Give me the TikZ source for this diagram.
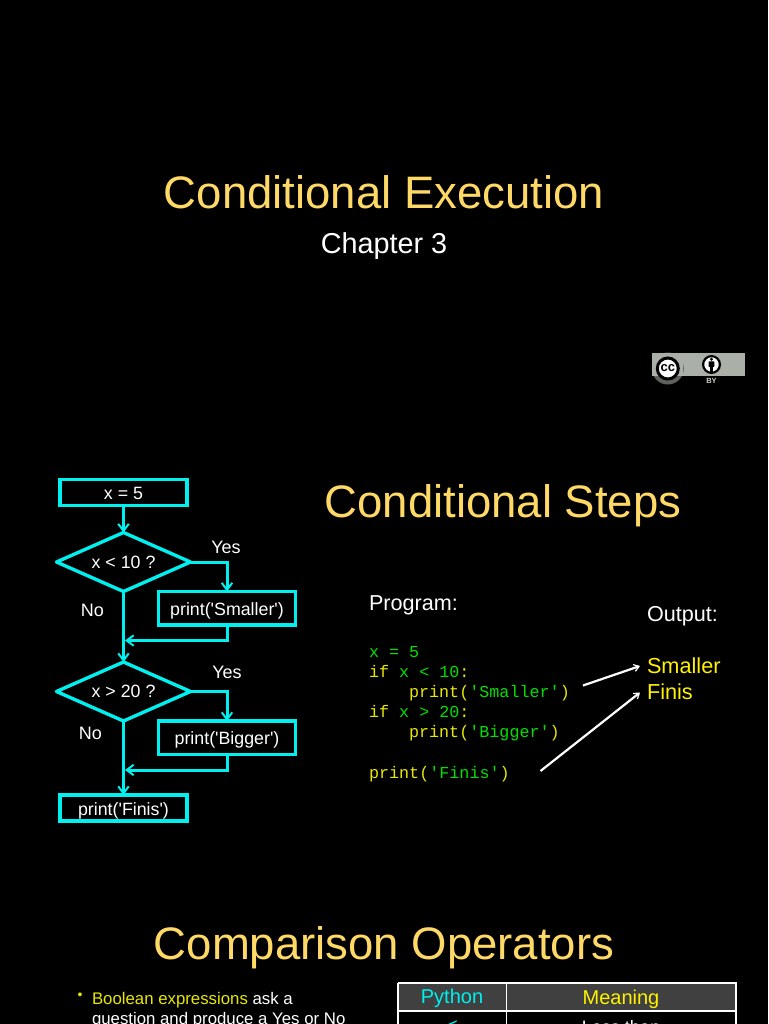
\documentclass[tikz,border=0pt]{standalone}
\usepackage{fontspec}
\setmainfont{Liberation Sans}
\setmonofont{Liberation Mono}
\newfontfamily\plainfont{Liberation Sans}
\usetikzlibrary{shapes.geometric,arrows.meta,calc}
\definecolor{gold}{HTML}{FFD966}
\definecolor{flow}{HTML}{00F0F0}
\definecolor{ctxt}{HTML}{E8E800}
\definecolor{cstr}{HTML}{00E000}
\definecolor{badge}{HTML}{AAB0A8}
\definecolor{hcyan}{HTML}{00F0F0}
\newcommand{\fs}[1]{\fontsize{#1}{#1}\selectfont}
\tikzset{
  x=1pt,y=-1pt,
  every node/.style={inner sep=0pt,outer sep=0pt},
  title/.style={text=gold,font=\fs{45.5}},
  flowbox/.style={draw=flow,line width=3.4pt,text=white,font=\plainfont\fs{17.8},text height=16pt,text depth=2pt},
  flowdia/.style={draw=flow,line width=3.4pt,line join=round,text=white,font=\plainfont\fs{17.8},diamond,aspect=2.3,minimum width=134pt,minimum height=59pt},
  flowline/.style={draw=flow,line width=3pt},
  flowarrow/.style={flowline,-{Straight Barb[length=7pt,width=10.5pt,line width=2pt]}},
  lab/.style={text=white,font=\fs{18}},
  wlab/.style={text=white,font=\fs{21.6}},
  code/.style={anchor=base west,text=ctxt,font=\ttfamily\fs{16.75}},
  outtext/.style={anchor=west,text=yellow,font=\fs{21.7}},
  outarrow/.style={draw=white,line width=2.2pt,-{Straight Barb[length=5pt,width=7pt,line width=1.2pt]}},
  tline/.style={draw=white,line width=1.5pt},
}
\begin{document}
\begin{tikzpicture}
\useasboundingbox (0,0) rectangle (768,1024);
\clip (0,0) rectangle (768,1024);
\fill[black] (0,0) rectangle (768,1024);

% titles
\node[title] (t1) at (384,192) {Conditional Execution};
\node[text=white,font=\fs{28.8}] (t2) at (384,246) {Chapter 3};
\node[title] (t3) at (503,506) {Conditional Steps};
\node[title] (t4) at (384,948) {Comparison Operators};

% CC badge
\fill[badge] (652,353) rectangle (745,376);
\fill[badge!55!black] (667.8,368.5) circle (16pt);
\fill[badge] (652,353) rectangle (683,376);
\filldraw[fill=white,draw=black,line width=3pt] (667.8,368.5) circle (10.5pt);
\node[text=black,font=\bfseries\fs{13}] (cc) at (667.8,368.5) {cc};
\filldraw[fill=white,draw=black,line width=2.2pt] (711.5,364.5) circle (8.4pt);
\fill[black] (711.5,359.3) circle (1.6pt);
\fill[black,rounded corners=0.6pt] (708.6,361.4) rectangle (714.4,366.8);
\fill[black] (709.9,366) rectangle (713.1,371.5);
\node[text=badge!60!white,font=\bfseries\fs{7.5}] (by) at (711.5,381) {BY};

% flow chart
\node[flowbox,minimum width=127pt,minimum height=26pt] (a) at (123.5,492.3) {x = 5};
\node[flowdia] (d1) at (123.5,562) {x < 10 ?};
\node[flowbox,minimum width=137pt,minimum height=33.6pt] (s) at (227,608.3) {print('Smaller')};
\node[flowdia] (d2) at (123.5,691.5) {x > 20 ?};
\node[flowbox,minimum width=137pt,minimum height=33.6pt] (b) at (227,737.8) {print('Bigger')};
\node[flowbox,minimum width=127pt,minimum height=26pt] (f) at (123.5,808) {print('Finis')};
\node[lab] (y1) at (226,547) {Yes};
\node[lab] (n1) at (92.5,610) {No};
\node[lab] (y2) at (227,672.5) {Yes};
\node[lab] (n2) at (90.5,733.5) {No};

\draw[flowarrow] (a.south) -- (d1.north);
\draw[flowarrow] (d1.east) -| (s.north);
\draw[flowarrow] (d1.south) -- (d2.north);
\draw[flowarrow] (s.south) |- (125,640.5);
\draw[flowarrow] (d2.east) -| (b.north);
\draw[flowarrow] (d2.south) -- (f.north);
\draw[flowarrow] (b.south) |- (125,770);

% program
\node[wlab,anchor=west] (prog) at (369,605) {Program:};
\node[wlab,anchor=west] (outl) at (647,616) {Output:};
\node[code] (c1) at (369,657) {\textcolor{cstr}{x = 5}};
\node[code] (c2) at (369,677) {if \textcolor{cstr}{x < 10}:};
\node[code] (c3) at (409,697) {print(\textcolor{cstr}{'Smaller'})};
\node[code] (c4) at (369,717) {if \textcolor{cstr}{x > 20}:};
\node[code] (c5) at (409,737) {print(\textcolor{cstr}{'Bigger'})};
\node[code] (c7) at (369,778) {print(\textcolor{cstr}{'Finis'})};
\node[outtext] (o1) at (647,666) {Smaller};
\node[outtext] (o2) at (647,692) {Finis};
\coordinate (r1) at (583,685.5);
\coordinate (r2) at (640,666);
\coordinate (r3) at (540.5,771);
\coordinate (r4) at (640,692.5);
\draw[outarrow] (r1) -- (r2);
\draw[outarrow] (r3) -- (r4);

% bottom slide
\node[text=ctxt,font=\fs{14}] (bul) at (80,996) {•};
\node[anchor=base west,text=white,font=\fs{16.8}] (l1) at (92,1004) {\textcolor{ctxt}{Boolean expressions} ask a};
\node[anchor=base west,text=white,font=\fs{16.8}] (l2) at (92,1024) {question and produce a Yes or No};

\fill[black!75] (398,983) rectangle (736,1011);
\draw[tline] (398,983) -- (736,983) -- (736,1030);
\draw[tline] (398,1030) -- (398,983);
\draw[tline] (398,1011) -- (736,1011);
\draw[tline] (506.5,983) -- (506.5,1030);
\node[text=hcyan,font=\fs{20}] (h1) at (452,998) {Python};
\node[text=yellow,font=\fs{20}] (h2) at (621,999) {Meaning};
\node[text=hcyan,font=\fs{20}] (v1) at (452,1027) {<};
\node[text=white,font=\fs{18}] (v2) at (621,1027) {Less than};
\end{tikzpicture}
\end{document}
